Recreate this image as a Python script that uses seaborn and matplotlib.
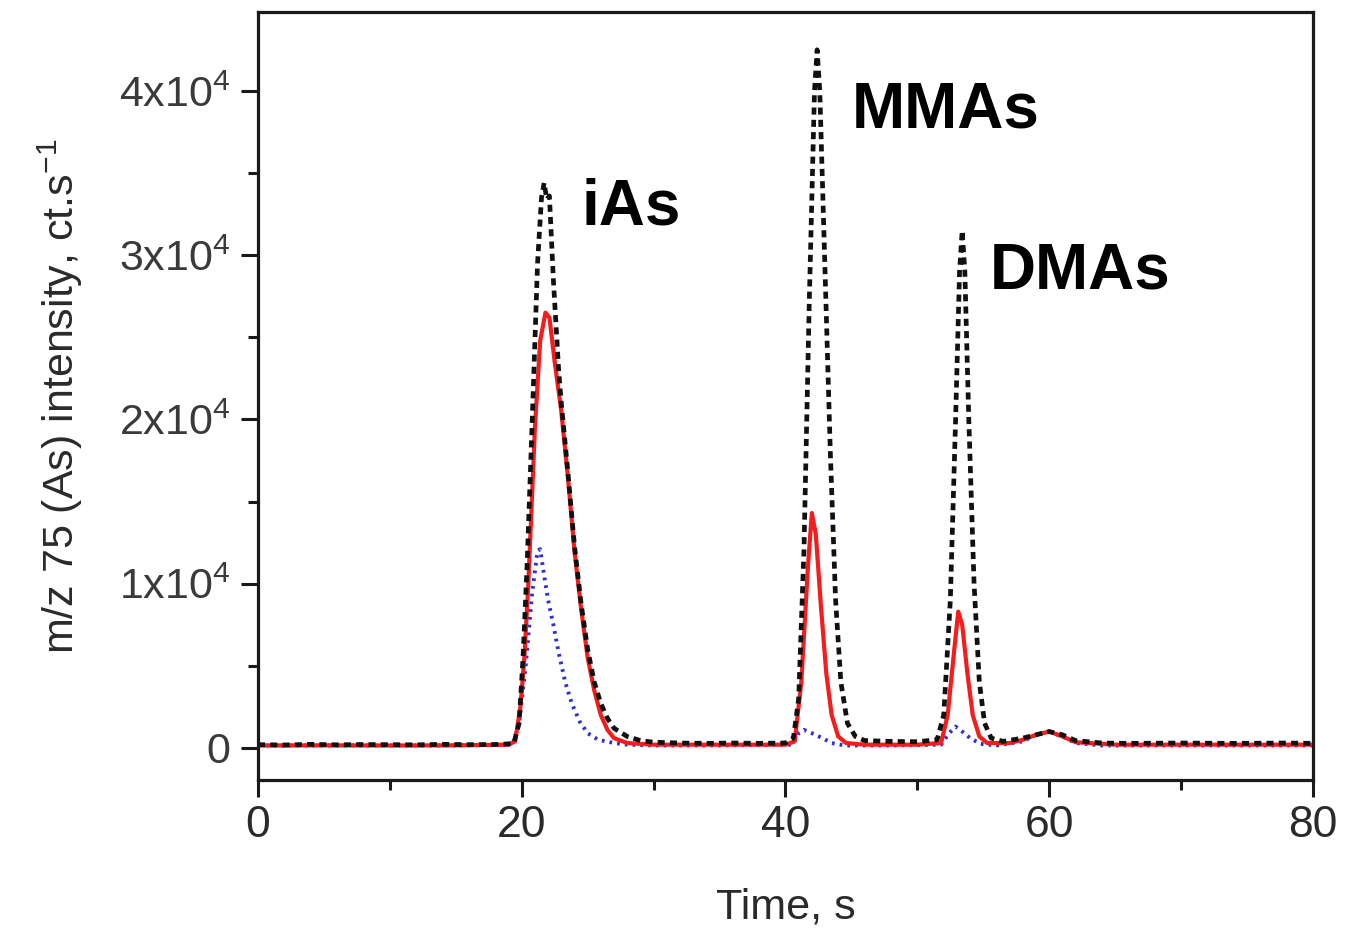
import matplotlib
matplotlib.use("Agg")
import matplotlib.pyplot as plt
import seaborn as sns
import pandas as pd
from matplotlib.ticker import MultipleLocator, FixedLocator, FuncFormatter

# Chromatogram traces: retention time (s) and m/z 75 intensity (ct/s)
t_black = [0, 2, 4, 6, 8, 10, 12, 14, 16, 18, 19.0, 19.4, 19.8, 20.1, 20.4, 20.8,
           21.2, 21.5, 21.7, 21.9, 22.1, 22.4, 22.8, 23.0, 23.5, 24.0, 24.5, 25.0,
           25.5, 26.0, 26.5, 27.0, 28.0, 29.0, 30, 32, 34, 36, 38, 40.0, 40.6, 41.0,
           41.4, 41.8, 42.2, 42.4, 42.6, 43.0, 43.4, 43.8, 44.2, 44.7, 45.3, 46, 48,
           50, 51.5, 52.0, 52.5, 52.9, 53.2, 53.4, 53.6, 53.9, 54.3, 54.7, 55.1, 55.6,
           56.5, 58, 59, 60, 61, 62, 64, 66, 70, 74, 78, 80]
i_black = [200, 180, 220, 190, 210, 200, 190, 220, 200, 210, 250, 300, 1500, 5500,
           11000, 20000, 29500, 33500, 34400, 33400, 33600, 28500, 23000, 21000,
           16800, 12300, 8800, 6000, 4000, 2700, 1800, 1200, 700, 450, 350, 300, 280,
           300, 280, 300, 600, 3000, 12000, 27000, 40000, 42500, 40000, 29000, 18000,
           9000, 4000, 1500, 700, 450, 400, 380, 500, 2000, 9000, 20000, 29000, 31500,
           29000, 20000, 10000, 4000, 1500, 600, 400, 600, 800, 1000, 800, 450, 300,
           280, 300, 280, 300, 280]

t_red = [0, 5, 10, 15, 19.0, 19.5, 19.9, 20.2, 20.5, 21.0, 21.4, 21.8, 22.1, 22.5,
         23.0, 23.5, 24.0, 24.5, 25.0, 25.5, 26.0, 26.5, 27.0, 28, 30, 35, 40.0, 40.7,
         41.2, 41.7, 42.0, 42.3, 42.7, 43.1, 43.5, 44.0, 44.6, 46, 50, 51.8, 52.3,
         52.8, 53.1, 53.4, 53.8, 54.2, 54.7, 55.3, 57, 58, 59, 60, 61, 62, 65, 70,
         75, 80]
i_red = [150, 160, 150, 160, 200, 400, 2500, 5500, 10000, 19500, 24800, 26500, 26200,
         23500, 20500, 16500, 12000, 8500, 5500, 3500, 2000, 1100, 600, 300, 200, 200,
         200, 400, 4000, 11000, 14300, 13000, 8500, 4500, 2000, 700, 300, 200, 200,
         300, 2000, 6000, 8300, 7500, 4500, 2000, 700, 300, 300, 500, 800, 1000, 700,
         350, 200, 200, 200, 200]

t_blue = [0, 5, 10, 15, 19.3, 19.8, 20.3, 20.8, 21.2, 21.4, 21.7, 22.0, 22.4, 22.8,
          23.3, 23.8, 24.4, 25.0, 25.8, 27, 28, 30, 35, 40.5, 41.0, 41.4, 42.0, 42.8,
          43.5, 44.5, 48, 51.8, 52.4, 52.9, 53.4, 54.0, 54.8, 56, 58, 59, 60, 61, 62,
          64, 70, 80]
i_blue = [150, 150, 150, 150, 200, 1500, 5000, 9500, 12000, 12100, 10500, 9000, 7500,
          5800, 4000, 2700, 1600, 900, 500, 300, 200, 150, 150, 200, 900, 1100, 900,
          600, 300, 150, 150, 200, 900, 1300, 1000, 600, 250, 150, 400, 800, 1000, 700,
          300, 150, 150, 150]

peak_names = ["iAs", "MMAs", "DMAs"]
peak_label_t = [24.5, 45.0, 55.5]
peak_label_i = [32900, 38800, 29000]

sns.set_theme(style="ticks")
plt.rcParams["font.family"] = ["Liberation Sans", "DejaVu Sans"]
plt.rcParams["mathtext.default"] = "regular"

fig = plt.figure(figsize=(13.45, 9.30), dpi=100)
ax = fig.add_axes([0.1918, 0.1613, 0.7844, 0.8258])

df_blue = pd.DataFrame({"t": t_blue, "i": i_blue})
df_red = pd.DataFrame({"t": t_red, "i": i_red})
df_black = pd.DataFrame({"t": t_black, "i": i_black})

sns.lineplot(data=df_blue, x="t", y="i", ax=ax, color="#2f2fd6", lw=2.8,
             estimator=None, sort=False)
ax.lines[-1].set_linestyle((0, (0.7, 1.3)))
sns.lineplot(data=df_red, x="t", y="i", ax=ax, color="#f41c1c", lw=3.0,
             estimator=None, sort=False)
sns.lineplot(data=df_black, x="t", y="i", ax=ax, color="#111111", lw=3.4,
             estimator=None, sort=False)
ax.lines[-1].set_linestyle((0, (1.5, 1.1)))

for name, tx, iy in zip(peak_names, peak_label_t, peak_label_i):
    ax.text(tx, iy, name, fontsize=46, fontweight="bold", color="black",
            ha="left", va="center", family=["Liberation Sans", "DejaVu Sans"])

ax.set_xlim(0, 80)
ax.set_ylim(-1950, 44800)

ax.xaxis.set_major_locator(MultipleLocator(20))
ax.xaxis.set_minor_locator(MultipleLocator(10))
ax.yaxis.set_major_locator(FixedLocator([0, 10000, 20000, 30000, 40000]))
ax.yaxis.set_minor_locator(FixedLocator([5000, 15000, 25000, 35000]))


def ytick(v, pos):
    if v == 0:
        return "0"
    return r"$%dx10^{4}$" % int(round(v / 10000))


ax.yaxis.set_major_formatter(FuncFormatter(ytick))

for s in ax.spines.values():
    s.set_linewidth(2.3)
    s.set_color("#1a1a1a")

ax.tick_params(axis="both", which="major", direction="out", length=12, width=2.2,
               color="#1a1a1a")
ax.tick_params(axis="both", which="minor", direction="out", length=7, width=2.2,
               color="#1a1a1a")
ax.tick_params(axis="x", which="major", labelsize=32, labelcolor="#2a2a2a", pad=6)
ax.tick_params(axis="y", which="major", labelsize=31, labelcolor="#3a3a3a", pad=8)

ax.set_xlabel("Time, s", fontsize=31, color="#2a2a2a", labelpad=30)
ax.set_ylabel(r"m/z 75 (As) intensity, ct.s$^{-1}$", fontsize=31, color="#2a2a2a",
              labelpad=24)

fig.savefig("out.png", dpi=100, facecolor="white")
